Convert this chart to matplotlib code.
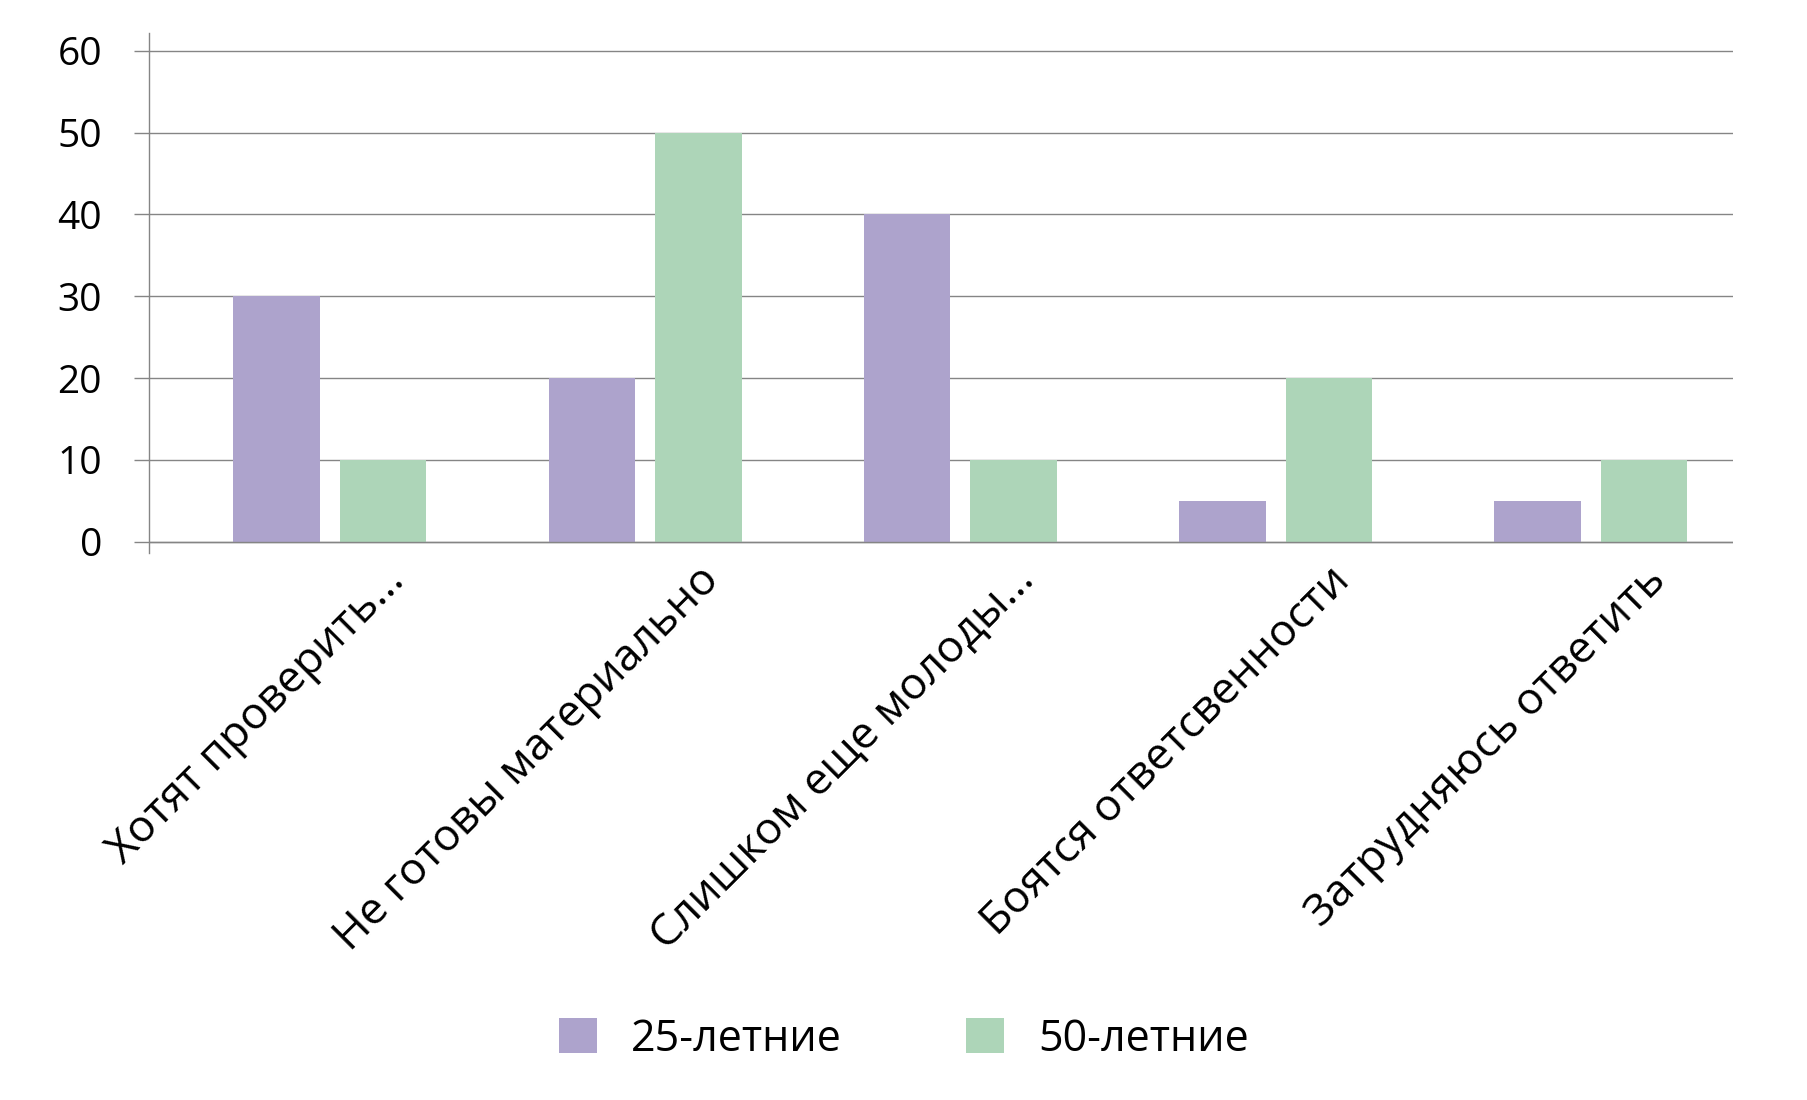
import numpy as np
import matplotlib
matplotlib.use('Agg')
import matplotlib.pyplot as plt
from matplotlib.transforms import ScaledTranslation

plt.rcParams['font.family'] = ['Open Sans', 'DejaVu Sans']

categories = ['Хотят проверить...', 'Не готовы материально', 'Слишком еще молоды...',
              'Боятся ответсвенности', 'Затрудняюсь ответить']
series_names = ['25-летние', '50-летние']
age25 = [30, 20, 40, 5, 5]
age50 = [10, 50, 10, 20, 10]
yticks = [0, 10, 20, 30, 40, 50, 60]

purple = '#ADA3CC'
green = '#ADD5B8'
gray = '#858585'

fig = plt.figure(figsize=(18.08, 11), dpi=100)
ax = fig.add_axes([0.0824, 0.497, 0.8761, 0.4733])

x = np.arange(len(categories))
w = 0.2744
off = 0.169
ax.bar(x - off, age25, w, color=purple, label=series_names[0], zorder=2)
ax.bar(x + off, age50, w, color=green, label=series_names[1], zorder=2)

ax.set_xlim(-0.574, 4.4505)
ax.set_ylim(-1.42, 62.2)
ax.set_yticks(yticks)
ax.yaxis.grid(True, color=gray, linewidth=1.0, zorder=1)
ax.set_axisbelow(True)
ax.axhline(0, color=gray, linewidth=1.0, zorder=3)

for s in ['top', 'right', 'bottom']:
    ax.spines[s].set_visible(False)
ax.spines['left'].set_color(gray)
ax.spines['left'].set_linewidth(1.0)

ax.tick_params(axis='y', length=10.8, width=1.0, color=gray, pad=23, labelsize=28)
ax.tick_params(axis='x', length=0, pad=20.8, labelsize=32)

ax.set_xticks(x)
ax.set_xticklabels(categories, rotation=45, ha='right', va='baseline', rotation_mode='anchor')
shift = ScaledTranslation(0.76, 0, fig.dpi_scale_trans)
for lab in ax.get_xticklabels():
    lab.set_transform(lab.get_transform() + shift)

fig.legend(loc='center', bbox_to_anchor=(0.5, 0.055), ncol=2, frameon=False,
           fontsize=31, handlelength=0.88, handleheight=0.88, handletextpad=0.79,
           columnspacing=2.9)

plt.savefig('out.png', dpi=100)
